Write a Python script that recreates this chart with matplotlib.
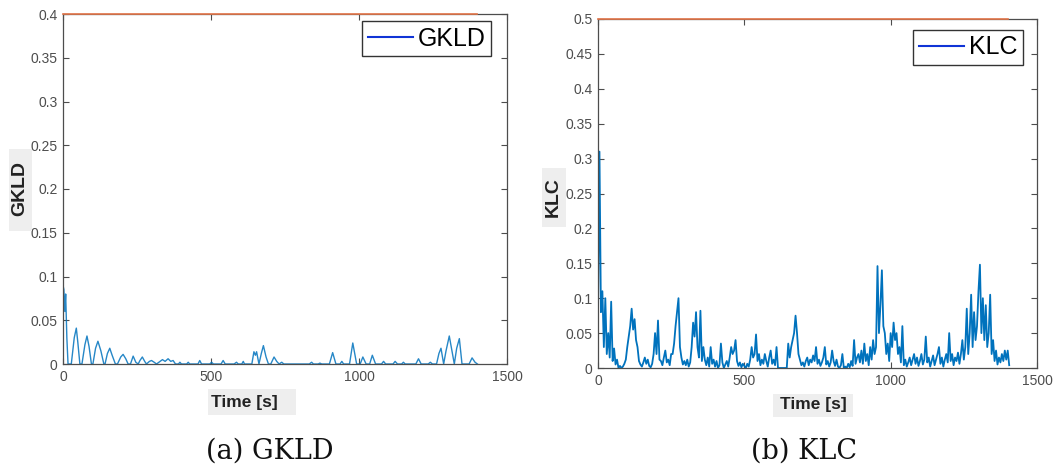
import numpy as np
import matplotlib
matplotlib.use("Agg")
import matplotlib.pyplot as plt
from matplotlib.lines import Line2D
from matplotlib.patches import Rectangle

# ── Data ──────────────────────────────────────────────────────────
gkld_t = [0, 3, 6, 9, 13, 17, 28, 38, 45, 50, 57, 64, 74, 81, 88, 96, 101, 110, 118, 128,
          138, 142, 150, 158, 166, 177, 184, 195, 203, 212, 220, 228, 237, 246, 254, 260,
          268, 276, 282, 292, 299, 308, 316, 328, 336, 345, 355, 364, 372, 380, 390, 395,
          400, 418, 423, 428, 456, 462, 468, 496, 502, 508, 534, 541, 548, 578, 586, 592,
          604, 609, 613, 638, 645, 650, 654, 662, 670, 677, 686, 694, 702, 713, 722, 730,
          739, 746, 832, 840, 846, 862, 868, 874, 900, 911, 922, 936, 942, 948, 968, 979,
          992, 1004, 1013, 1024, 1036, 1045, 1056, 1076, 1083, 1090, 1115, 1122, 1130,
          1144, 1150, 1156, 1192, 1201, 1210, 1234, 1241, 1248, 1262, 1270, 1277, 1286,
          1294, 1305, 1314, 1322, 1330, 1339, 1348, 1372, 1382, 1392, 1400]
gkld_v = [0.090, 0.085, 0.060, 0.080, 0.030, 0.0, 0.0, 0.030, 0.041, 0.025, 0.0, 0.0, 0.022,
          0.032, 0.020, 0.0, 0.0, 0.018, 0.026, 0.015, 0.0, 0.0, 0.012, 0.018, 0.010, 0.0,
          0.0, 0.008, 0.011, 0.006, 0.0, 0.0, 0.009, 0.002, 0.0, 0.004, 0.008, 0.003, 0.0,
          0.003, 0.004, 0.002, 0.0, 0.003, 0.005, 0.003, 0.006, 0.003, 0.004, 0.0, 0.0,
          0.002, 0.0, 0.0, 0.002, 0.0, 0.0, 0.004, 0.0, 0.0, 0.002, 0.0, 0.0, 0.004, 0.0,
          0.0, 0.002, 0.0, 0.0, 0.003, 0.0, 0.0, 0.014, 0.010, 0.014, 0.0, 0.012, 0.021,
          0.008, 0.0, 0.0, 0.008, 0.003, 0.0, 0.002, 0.0, 0.0, 0.002, 0.0, 0.0, 0.001, 0.0,
          0.0, 0.013, 0.0, 0.0, 0.003, 0.0, 0.0, 0.024, 0.0, 0.0, 0.008, 0.0, 0.0, 0.010,
          0.0, 0.0, 0.003, 0.0, 0.0, 0.003, 0.0, 0.0, 0.002, 0.0, 0.0, 0.006, 0.0, 0.0,
          0.002, 0.0, 0.0, 0.012, 0.018, 0.0, 0.015, 0.032, 0.015, 0.0, 0.018, 0.029, 0.0,
          0.0, 0.007, 0.002, 0.0]

# KLC sampled every 5 s, one row per 50 s
klc_dt = 5
klc_v = [
    0.08, 0.31, 0.08, 0.11, 0.03, 0.10, 0.02, 0.05, 0.015, 0.095,
    0.01, 0.028, 0.005, 0.012, 0.0, 0.003, 0.0, 0.002, 0.006, 0.012,
    0.03, 0.045, 0.06, 0.085, 0.055, 0.07, 0.04, 0.03, 0.01, 0.005,
    0.002, 0.008, 0.015, 0.006, 0.012, 0.003, 0.001, 0.006, 0.02, 0.05,
    0.02, 0.068, 0.012, 0.01, 0.004, 0.015, 0.025, 0.008, 0.012, 0.004,
    0.02, 0.02, 0.035, 0.06, 0.08, 0.10, 0.03, 0.015, 0.005, 0.01,
    0.004, 0.012, 0.002, 0.008, 0.03, 0.065, 0.045, 0.08, 0.03, 0.015,
    0.082, 0.01, 0.03, 0.012, 0.004, 0.015, 0.002, 0.03, 0.006, 0.012,
    0.002, 0.01, 0.0, 0.004, 0.035, 0.008, 0.0, 0.005, 0.01, 0.002,
    0.015, 0.03, 0.02, 0.025, 0.04, 0.01, 0.003, 0.008, 0.001, 0.006,
    0.003, 0.0, 0.006, 0.002, 0.012, 0.03, 0.015, 0.02, 0.048, 0.01,
    0.02, 0.004, 0.012, 0.006, 0.02, 0.01, 0.002, 0.015, 0.025, 0.006,
    0.012, 0.004, 0.03, 0.0, 0.0, 0.0, 0.0, 0.0, 0.0, 0.0,
    0.035, 0.015, 0.03, 0.04, 0.05, 0.075, 0.05, 0.02, 0.012, 0.004,
    0.008, 0.002, 0.01, 0.015, 0.004, 0.012, 0.008, 0.018, 0.01, 0.03,
    0.006, 0.012, 0.003, 0.008, 0.015, 0.03, 0.005, 0.01, 0.002, 0.008,
    0.025, 0.01, 0.003, 0.012, 0.002, 0.0, 0.004, 0.02, 0.0, 0.002,
    0.0, 0.006, 0.001, 0.01, 0.003, 0.04, 0.006, 0.015, 0.02, 0.008,
    0.025, 0.006, 0.035, 0.01, 0.02, 0.004, 0.03, 0.012, 0.04, 0.02,
    0.03, 0.146, 0.05, 0.09, 0.14, 0.06, 0.05, 0.02, 0.035, 0.01,
    0.05, 0.03, 0.065, 0.04, 0.05, 0.02, 0.03, 0.008, 0.06, 0.004,
    0.012, 0.002, 0.008, 0.015, 0.004, 0.012, 0.02, 0.006, 0.015, 0.003,
    0.01, 0.02, 0.005, 0.012, 0.045, 0.008, 0.015, 0.002, 0.01, 0.018,
    0.004, 0.012, 0.02, 0.03, 0.006, 0.015, 0.002, 0.012, 0.02, 0.008,
    0.05, 0.01, 0.02, 0.004, 0.015, 0.01, 0.022, 0.006, 0.02, 0.04,
    0.012, 0.03, 0.085, 0.02, 0.05, 0.105, 0.03, 0.08, 0.04, 0.06,
    0.11, 0.148, 0.05, 0.10, 0.04, 0.09, 0.03, 0.05, 0.105, 0.02,
    0.04, 0.01, 0.025, 0.005, 0.015, 0.008, 0.02, 0.01, 0.025, 0.012,
    0.025, 0.004,
]
klc_t = np.arange(len(klc_v)) * klc_dt

x_ticks = [0, 500, 1000, 1500]
gkld_yticks = [0, 0.05, 0.1, 0.15, 0.2, 0.25, 0.3, 0.35, 0.4]
gkld_ylabels = ["0", "0.05", "0.1", "0.15", "0.2", "0.25", "0.3", "0.35", "0.4"]
klc_yticks = [0, 0.05, 0.1, 0.15, 0.2, 0.25, 0.3, 0.35, 0.4, 0.45, 0.5]
klc_ylabels = ["0", "0.05", "0.1", "0.15", "0.2", "0.25", "0.3", "0.35", "0.4", "0.45", "0.5"]
t_end = 1400

LINE_BLUE = "#0072BD"
ORANGE = "#E4764A"
AX_GRAY = "#4D4D4D"
LABEL_BG = "#EEEEEE"

plt.rcParams["font.family"] = ["Liberation Sans", "DejaVu Sans"]

W, H = 1057, 468
fig = plt.figure(figsize=(W / 100, H / 100), dpi=100)


def px_rect(x0, y0, x1, y1):
    # pixel box (top-left origin) -> figure fraction rect
    return [x0 / W, 1 - y1 / H, (x1 - x0) / W, (y1 - y0) / H]


def style_axes(ax, ymax, yticks, ylabels):
    ax.set_xlim(0, 1500)
    ax.set_ylim(0, ymax)
    ax.set_xticks(x_ticks)
    ax.set_xticklabels([str(v) for v in x_ticks])
    ax.set_yticks(yticks)
    ax.set_yticklabels(ylabels)
    ax.tick_params(direction="in", length=4, width=0.8, colors=AX_GRAY,
                   labelsize=10, top=True, right=True, pad=4)
    for s in ax.spines.values():
        s.set_color(AX_GRAY)
        s.set_linewidth(0.9)
    # threshold line along the top
    ax.plot([0, t_end], [ymax, ymax], color=ORANGE, lw=1.2, clip_on=False, zorder=5)


def add_label(x0, y0, x1, y1, tx, ty, text, rot, size):
    fig.patches.append(Rectangle((x0 / W, 1 - y1 / H), (x1 - x0) / W, (y1 - y0) / H,
                                 transform=fig.transFigure, facecolor=LABEL_BG,
                                 edgecolor="none", zorder=0))
    fig.text(tx / W, 1 - ty / H, text, rotation=rot, ha="center", va="center",
             fontsize=size, fontweight="bold", color="#222222")


# ── (a) GKLD ──────────────────────────────────────────────────────
ax1 = fig.add_axes(px_rect(63, 14, 507, 364))
ax1.plot(gkld_t, gkld_v, color=LINE_BLUE, lw=1.0, alpha=0.85)
style_axes(ax1, 0.4, gkld_yticks, gkld_ylabels)
h1 = Line2D([], [], color="#1034D6", lw=1.5)
leg1 = ax1.legend([h1], ["GKLD"], loc="upper right", bbox_to_anchor=(0.964, 0.98),
                  borderaxespad=0, fancybox=False, edgecolor="#333333", fontsize=18,
                  handlelength=1.8, handletextpad=0.2, borderpad=0.22, framealpha=1)
leg1.get_frame().set_linewidth(1.0)

# ── (b) KLC ───────────────────────────────────────────────────────
ax2 = fig.add_axes(px_rect(598, 19, 1037, 368))
ax2.plot(klc_t, klc_v, color=LINE_BLUE, lw=1.3)
style_axes(ax2, 0.5, klc_yticks, klc_ylabels)
h2 = Line2D([], [], color="#1034D6", lw=1.5)
leg2 = ax2.legend([h2], ["KLC"], loc="upper right", bbox_to_anchor=(0.968, 0.9685),
                  borderaxespad=0, fancybox=False, edgecolor="#333333", fontsize=18,
                  handlelength=1.8, handletextpad=0.2, borderpad=0.22, framealpha=1)
leg2.get_frame().set_linewidth(1.0)

# axis labels with the grey backdrop
add_label(9, 149, 32, 231, 20, 188, "GKLD", 90, 14)
add_label(208, 389, 296, 415, 244, 402, "Time [s]", 0, 12.5)
add_label(542, 168, 566, 227, 553, 197, "KLC", 90, 14)
add_label(773, 394, 853, 417, 813, 405, "Time [s]", 0, 12.5)

# sub-captions
fig.text(270 / W, 1 - 451 / H, "(a) GKLD", ha="center", va="center",
         fontsize=19.5, family="DejaVu Serif", color="#111111")
fig.text(804 / W, 1 - 451 / H, "(b) KLC", ha="center", va="center",
         fontsize=19.5, family="DejaVu Serif", color="#111111")

fig.savefig("out.png", dpi=100)
